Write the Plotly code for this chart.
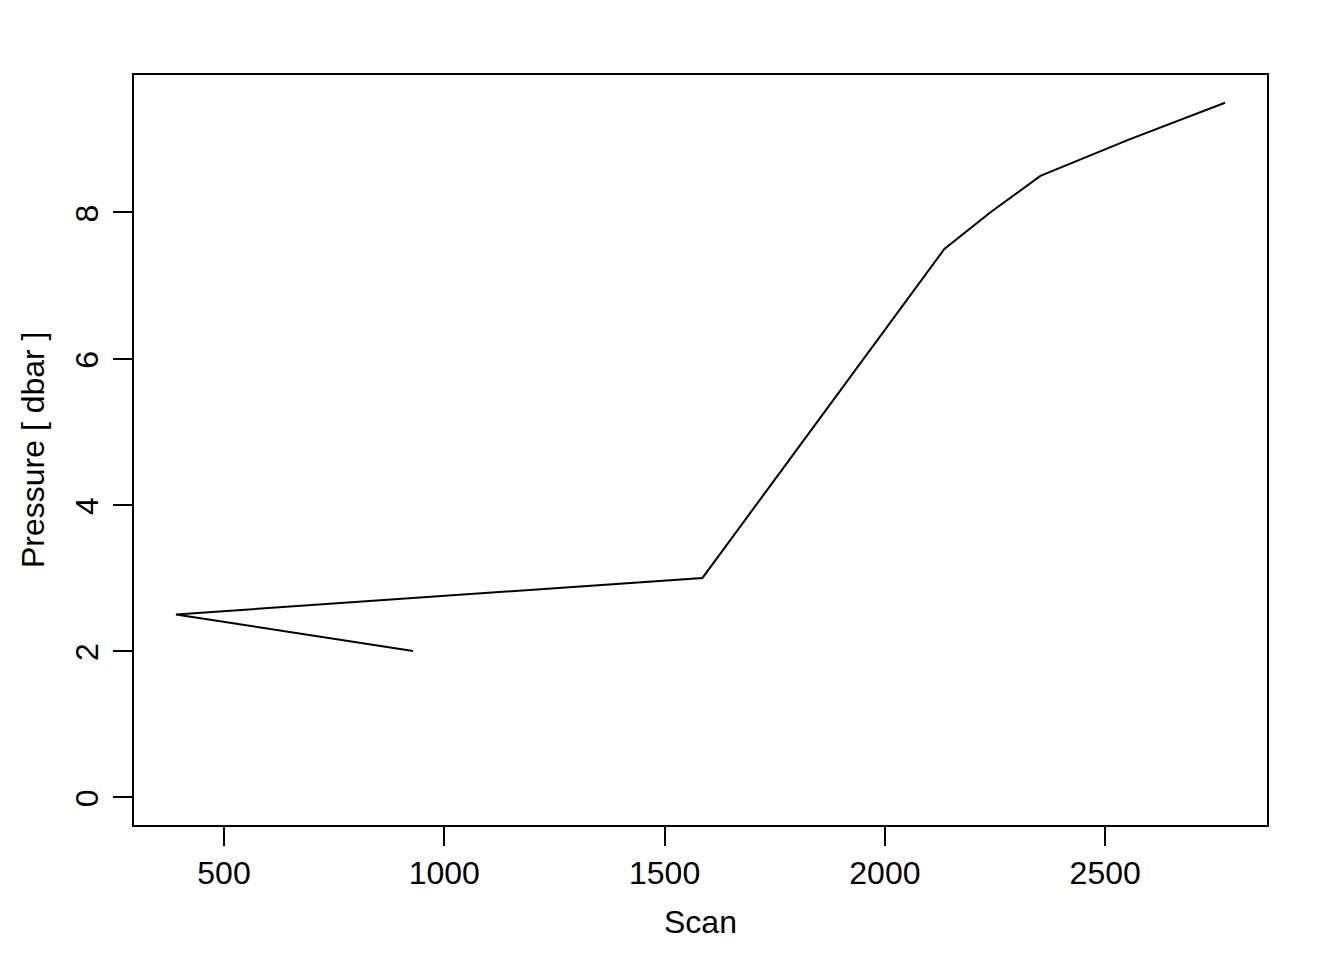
import plotly.graph_objects as go

scan = [929, 391, 1586, 2135, 2239, 2353, 2555, 2772]
pressure = [2.0, 2.5, 3.0, 7.5, 8.0, 8.5, 9.0, 9.5]

x_ticks = [500, 1000, 1500, 2000, 2500]
y_ticks = [0, 2, 4, 6, 8]

xmin, xmax = min(scan), max(scan)
ylo, yhi = 0, max(pressure)
xpad = (xmax - xmin) * 0.04
ypad = (yhi - ylo) * 0.04

FONT = "Liberation Sans, Arial, sans-serif"
FS = 32

fig = go.Figure()
fig.add_trace(go.Scatter(x=scan, y=pressure, mode="lines",
                         line=dict(color="black", width=2), showlegend=False))

fig.update_layout(
    width=1336, height=952,
    margin=dict(l=126, r=77, t=67, b=135),
    paper_bgcolor="white", plot_bgcolor="white",
    font=dict(family=FONT, size=FS, color="black"),
    xaxis=dict(range=[xmin - xpad, xmax + xpad], tickvals=x_ticks,
               ticks="outside", ticklen=19, tickwidth=2, tickcolor="black",
               showline=True, linecolor="black", linewidth=2, mirror=True,
               showgrid=False, zeroline=False,
               tickfont=dict(size=FS, family=FONT, color="black")),
    yaxis=dict(range=[ylo - ypad, yhi + ypad], tickvals=y_ticks,
               ticks="outside", ticklen=19, tickwidth=2, tickcolor="black",
               tickangle=-90, ticklabelstandoff=2, ticklabelshift=6,
               showline=True, linecolor="black", linewidth=2, mirror=True,
               showgrid=False, zeroline=False,
               tickfont=dict(size=FS, family=FONT, color="black")),
    annotations=[
        dict(text="Scan", xref="paper", yref="paper", x=0.5, y=-0.1293,
             xanchor="center", yanchor="middle", showarrow=False,
             font=dict(size=FS, family=FONT, color="black")),
        dict(text="Pressure [ dbar ]", xref="paper", yref="paper", x=-0.0891, y=0.5,
             xanchor="center", yanchor="middle", textangle=-90, showarrow=False,
             font=dict(size=FS, family=FONT, color="black")),
    ],
)

fig.write_html("out.html")
